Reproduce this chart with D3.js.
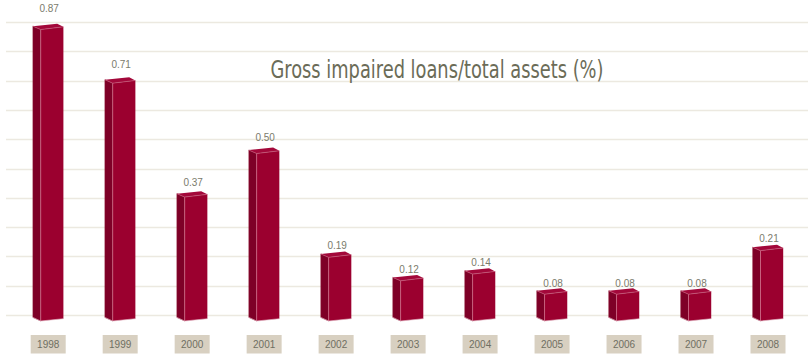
<!DOCTYPE html>
<html>
<head>
<meta charset="utf-8">
<script src="https://cdn.jsdelivr.net/npm/d3@7/dist/d3.min.js"></script>
<style>
  html, body { margin: 0; padding: 0; background: #ffffff; }
  svg { display: block; }
</style>
</head>
<body>
<svg id="chart" width="812" height="354"></svg>
<script>
// Gross impaired loans as a share of total assets, by year
const years = ["1998", "1999", "2000", "2001", "2002", "2003", "2004", "2005", "2006", "2007", "2008"];
const ratios = [0.87, 0.71, 0.37, 0.50, 0.19, 0.12, 0.14, 0.08, 0.08, 0.08, 0.21];
const gridValues = [0, 0.09, 0.18, 0.27, 0.36, 0.45, 0.54, 0.63, 0.72, 0.81, 0.9];
const chartTitle = "Gross impaired loans/total assets (%)";

const svg = d3.select("#chart");

// horizontal placement of each bar (centre of the prism)
const x = d3.scalePoint().domain(years).range([48.2, 768]);
// front-face height of the bars
const y = d3.scaleLinear().domain([0, 0.9]).range([321, 19.5]);
// back wall, where the grid sits
const yWall = d3.scaleLinear().domain([0, 0.9]).range([315, 22]);
// value labels float just above each prism
const yLabel = d3.scaleLinear().domain([0, 0.87]).range([315, 12]);

// grid on the back wall
svg.append("g")
  .selectAll("line")
  .data(gridValues)
  .join("line")
  .attr("x1", 6)
  .attr("x2", 808)
  .attr("y1", d => Math.round(yWall(d)) + 0.5)
  .attr("y2", d => Math.round(yWall(d)) + 0.5)
  .attr("stroke", "#ece9e0")
  .attr("stroke-width", 1.4);

// title
svg.append("text")
  .attr("x", 437)
  .attr("y", 78)
  .attr("text-anchor", "middle")
  .attr("font-family", "'Liberation Sans Narrow', 'Arial Narrow', 'DejaVu Sans Condensed', sans-serif")
  .attr("font-size", 24)
  .attr("fill", "#6b6c58")
  .attr("textLength", 333)
  .attr("lengthAdjust", "spacingAndGlyphs")
  .text(chartTitle);

const data = years.map((yr, i) => ({ year: yr, value: ratios[i] }));

// 3D prism geometry around centre c, front top T and base B
const sideW = 7.8, frontL = 7.5, frontR = 15.2;
function sidePath(c, T, B) {
  return `M${c - frontL - sideW},${T - 3.4} L${c - frontL},${T} L${c - frontL},${B} L${c - frontL - sideW},${B - 3.6} Z`;
}
function frontPath(c, T, B) {
  return `M${c - frontL},${T} L${c + frontR},${T - 2.7} L${c + frontR},${B - 2.3} L${c - frontL},${B} Z`;
}
function topPath(c, T) {
  return `M${c - frontL - sideW},${T - 3.4} L${c + 9},${T - 5.9} L${c + frontR},${T - 2.7} L${c - frontL},${T} Z`;
}

const bars = svg.append("g")
  .selectAll("g")
  .data(data)
  .join("g");

bars.append("path")
  .attr("d", d => sidePath(x(d.year), y(d.value), y(0)))
  .attr("fill", "#7e0027")
  .attr("stroke", "#8c1535")
  .attr("stroke-width", 0.5);

bars.append("path")
  .attr("d", d => frontPath(x(d.year), y(d.value), y(0)))
  .attr("fill", "#9b002f");

bars.append("path")
  .attr("d", d => topPath(x(d.year), y(d.value)))
  .attr("fill", "#a3083a");

// light highlights along the front edges
bars.append("line")
  .attr("x1", d => x(d.year) - frontL)
  .attr("x2", d => x(d.year) - frontL)
  .attr("y1", d => y(d.value))
  .attr("y2", d => y(0))
  .attr("stroke", "#d0708c")
  .attr("stroke-width", 0.8);

bars.append("path")
  .attr("d", d => {
    const c = x(d.year), T = y(d.value);
    return `M${c - frontL - sideW},${T - 3.4} L${c - frontL},${T} L${c + frontR},${T - 2.7}`;
  })
  .attr("fill", "none")
  .attr("stroke", "#c55a7a")
  .attr("stroke-width", 0.7);

bars.append("path")
  .attr("d", d => {
    const c = x(d.year), B = y(0);
    return `M${c - frontL - sideW},${B - 3.6} L${c - frontL},${B} L${c + frontR},${B - 2.3}`;
  })
  .attr("fill", "none")
  .attr("stroke", "#e3b5c2")
  .attr("stroke-width", 0.6);

// value labels
bars.append("text")
  .attr("x", d => x(d.year) + 1)
  .attr("y", d => yLabel(d.value))
  .attr("text-anchor", "middle")
  .attr("font-family", "'Liberation Sans', Arial, sans-serif")
  .attr("font-size", 10)
  .attr("fill", "#7b7b6c")
  .text(d => d.value.toFixed(2));

// year tags along the bottom
const tags = svg.append("g")
  .selectAll("g")
  .data(years)
  .join("g")
  .attr("transform", d => `translate(${x(d)},0)`);

tags.append("rect")
  .attr("x", -17.5)
  .attr("y", 335)
  .attr("width", 35)
  .attr("height", 18.5)
  .attr("fill", "#d8d0c1");

tags.append("text")
  .attr("x", 0)
  .attr("y", 348)
  .attr("text-anchor", "middle")
  .attr("font-family", "'Liberation Sans', Arial, sans-serif")
  .attr("font-size", 10)
  .attr("fill", "#6f6f62")
  .text(d => d);
</script>
</body>
</html>
